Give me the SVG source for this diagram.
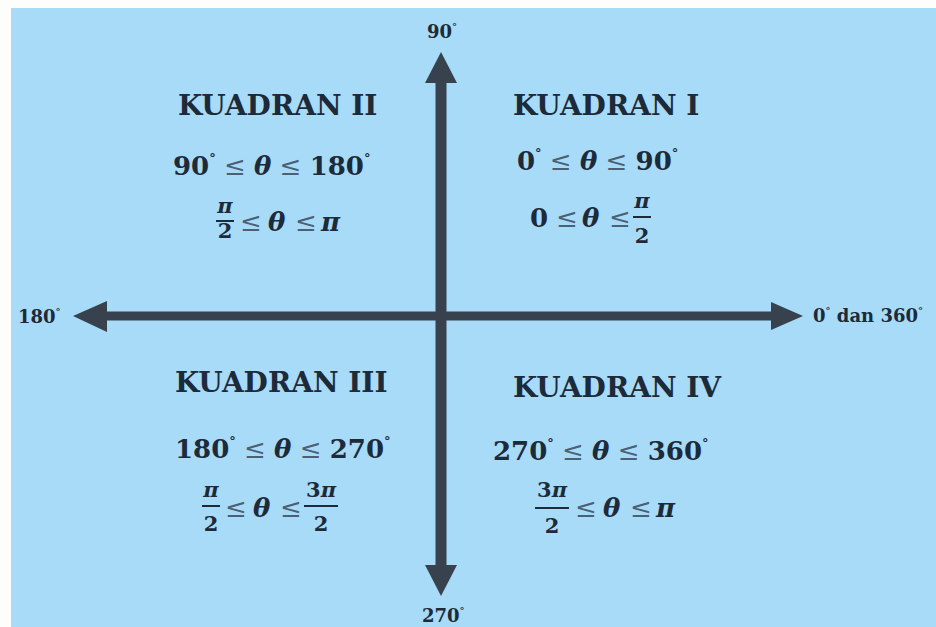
<svg xmlns="http://www.w3.org/2000/svg" width="936" height="627" viewBox="0 0 936 627">
<style>
.t{font-family:"DejaVu Serif","Liberation Serif",serif;font-weight:bold;fill:#1d2a39}
.ti{font-size:28px}
.eq{font-size:26px}
.fr{font-size:21px;text-anchor:middle}
.lb{font-size:18px}
.le{fill:#4a6075;font-weight:normal}
.it{font-style:italic}
.ax{stroke:#37424e;fill:none}
.hd{fill:#37424e}
.bar{stroke:#1d2a39;stroke-width:2}
</style>
<rect x="0" y="0" width="936" height="627" fill="#fdfdfb"/>
<rect x="11" y="8" width="925" height="619" fill="#a8dbf7"/>
<g id="axes">
<line class="ax" x1="441" y1="80" x2="441" y2="568" stroke-width="11"/>
<line class="ax" x1="105" y1="316" x2="775" y2="316" stroke-width="9"/>
<polygon class="hd" points="441,52 425,83 457,83"/>
<polygon class="hd" points="441,596 425,565 457,565"/>
<polygon class="hd" points="73,316 107,301 107,332"/>
<polygon class="hd" points="803,316 771,302 771,330"/>
</g>
<g id="label-90"><text class="t lb" x="427" y="38">90<tspan font-size="10" dy="-8">°</tspan></text></g>
<g id="label-180"><text class="t lb" x="18" y="323">180<tspan font-size="10" dy="-8">°</tspan></text></g>
<g id="label-0"><text class="t lb" x="813" y="322">0<tspan font-size="10" dy="-8">°</tspan><tspan dy="8"> dan 360</tspan><tspan font-size="10" dy="-8">°</tspan></text></g>
<g id="label-270"><text class="t lb" x="422" y="622">270<tspan font-size="10" dy="-8">°</tspan></text></g>
<g id="q1">
<text class="t ti" x="513" y="115">KUADRAN I</text>
<text class="t eq" x="517" y="170">0<tspan font-size="13" dy="-12">°</tspan><tspan dy="12" class="le"> ≤ </tspan><tspan class="it">θ</tspan><tspan class="le"> ≤ </tspan>90<tspan font-size="13" dy="-12">°</tspan></text>
<text class="t eq" y="227"><tspan x="530">0</tspan><tspan class="le" x="556">≤</tspan><tspan class="it" x="582">θ</tspan><tspan class="le" x="609">≤</tspan></text>
<text class="t fr it" x="642" y="208">π</text>
<line class="bar" x1="633" y1="217" x2="651" y2="217"/>
<text class="t fr" x="642" y="243">2</text>
</g>
<g id="q2">
<text class="t ti" x="178" y="115">KUADRAN II</text>
<text class="t eq" x="173" y="175">90<tspan font-size="13" dy="-12">°</tspan><tspan dy="12" class="le"> ≤ </tspan><tspan class="it">θ</tspan><tspan class="le"> ≤ </tspan>180<tspan font-size="13" dy="-12">°</tspan></text>
<text class="t fr it" x="225" y="213">π</text>
<line class="bar" x1="216" y1="221" x2="234" y2="221"/>
<text class="t fr" x="225" y="238">2</text>
<text class="t eq" y="231"><tspan class="le" x="240">≤</tspan><tspan class="it" x="268">θ</tspan><tspan class="le" x="295">≤</tspan><tspan class="it" x="321">π</tspan></text>
</g>
<g id="q3">
<text class="t ti" x="175" y="392">KUADRAN III</text>
<text class="t eq" x="175" y="458">180<tspan font-size="13" dy="-12">°</tspan><tspan dy="12" class="le"> ≤ </tspan><tspan class="it">θ</tspan><tspan class="le"> ≤ </tspan>270<tspan font-size="13" dy="-12">°</tspan></text>
<text class="t fr it" x="211" y="497">π</text>
<line class="bar" x1="202" y1="506" x2="220" y2="506"/>
<text class="t fr" x="211" y="531">2</text>
<text class="t eq" y="517"><tspan class="le" x="225">≤</tspan><tspan class="it" x="253">θ</tspan><tspan class="le" x="280">≤</tspan></text>
<text class="t fr" x="321" y="497">3<tspan class="it">π</tspan></text>
<line class="bar" x1="304" y1="506" x2="338" y2="506"/>
<text class="t fr" x="321" y="531">2</text>
</g>
<g id="q4">
<text class="t ti" x="513" y="397">KUADRAN IV</text>
<text class="t eq" x="493" y="460">270<tspan font-size="13" dy="-12">°</tspan><tspan dy="12" class="le"> ≤ </tspan><tspan class="it">θ</tspan><tspan class="le"> ≤ </tspan>360<tspan font-size="13" dy="-12">°</tspan></text>
<text class="t fr" x="552" y="497">3<tspan class="it">π</tspan></text>
<line class="bar" x1="535" y1="508" x2="569" y2="508"/>
<text class="t fr" x="552" y="533">2</text>
<text class="t eq" y="517"><tspan class="le" x="575">≤</tspan><tspan class="it" x="603">θ</tspan><tspan class="le" x="630">≤</tspan><tspan class="it" x="656">π</tspan></text>
</g>
</svg>
